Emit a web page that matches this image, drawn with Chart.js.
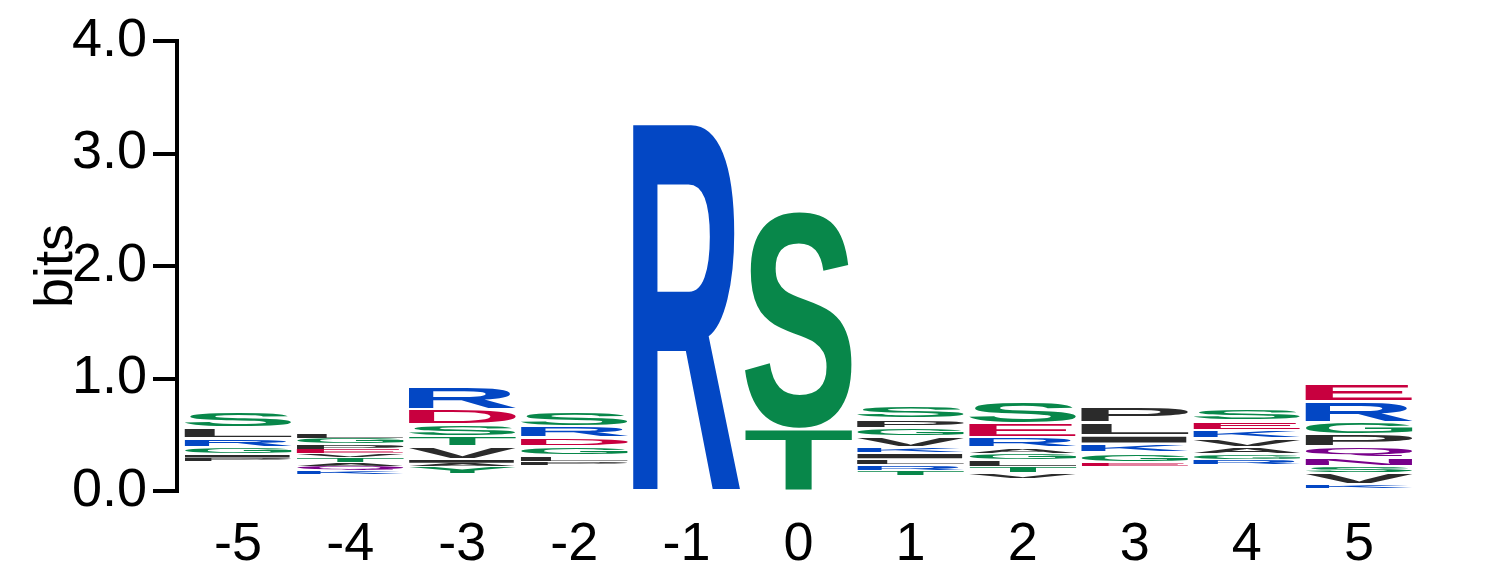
<!DOCTYPE html>
<html>
<head>
<meta charset="utf-8">
<title>Sequence logo</title>
<script src="https://cdn.jsdelivr.net/npm/chart.js@4.4.1/dist/chart.umd.min.js"></script>
<style>
  html, body { margin: 0; padding: 0; background: #fff; }
  canvas { display: block; }
</style>
</head>
<body>
<canvas id="logoChart" width="1486" height="583"></canvas>
<script>
// Positions along the motif (x axis)
const positions = [-5, -4, -3, -2, -1, 0, 1, 2, 3, 4, 5];
const yTickLabels = ['0.0', '1.0', '2.0', '3.0', '4.0'];

// Where each stack starts (bits)
const stackBase = [0.267, 0.155, 0.16, 0.23, 0, 0, 0.145, 0.118, 0.22, 0.24, 0.03];

// Residues of every column, bottom to top
const letters = [
  'PIGRLS',
  'KQATVEPGL',
  'YAIVTSDR',
  'PLGDRS',
  'R',
  'TS',
  'TRLIKVGPS',
  'VTLGARES',
  'EGKILP',
  'RGAVKES',
  'KVSNQPGRE'
];

// Height of each residue in bits, same order as above
const heights = [
  [0.020, 0.033, 0.060, 0.082, 0.089, 0.142],
  [0.025, 0.035, 0.035, 0.040, 0.035, 0.040, 0.040, 0.057, 0.045],
  [0.055, 0.025, 0.035, 0.110, 0.093, 0.104, 0.136, 0.200],
  [0.022, 0.053, 0.080, 0.079, 0.102, 0.124],
  [3.26],
  [0.54, 1.94],
  [0.030, 0.047, 0.053, 0.054, 0.051, 0.094, 0.077, 0.080, 0.118],
  [0.030, 0.059, 0.060, 0.059, 0.054, 0.088, 0.119, 0.201],
  [0.026, 0.083, 0.080, 0.074, 0.113, 0.139],
  [0.030, 0.050, 0.060, 0.079, 0.074, 0.083, 0.104],
  [0.020, 0.101, 0.059, 0.080, 0.095, 0.107, 0.110, 0.186, 0.163]
];

// chemistry colour scheme
const BLUE = '#0347c4', GREEN = '#08874a', RED = '#c8003f', BLACK = '#2b2b2b', PURPLE = '#78008a';
const residueColors = {
  R: BLUE, K: BLUE, H: BLUE,
  D: RED, E: RED,
  S: GREEN, T: GREEN, G: GREEN, Y: GREEN, C: GREEN,
  N: PURPLE, Q: PURPLE,
  A: BLACK, V: BLACK, L: BLACK, I: BLACK, P: BLACK, F: BLACK, M: BLACK, W: BLACK
};

// one dataset per layer of the stacks, each bar floating from its bottom to its top
const maxLayers = Math.max(...letters.map(s => s.length));
const datasets = [];
for (let layer = 0; layer < maxLayers; layer++) {
  const data = [];
  const residues = [];
  positions.forEach((pos, col) => {
    if (layer >= letters[col].length) return;
    let lo = stackBase[col];
    for (let k = 0; k < layer; k++) lo += heights[col][k];
    data.push({ x: pos, y: [lo, lo + heights[col][layer]] });
    residues.push(letters[col][layer]);
  });
  datasets.push({
    data: data,
    residues: residues,
    layer: layer,
    grouped: false,
    backgroundColor: 'rgba(0,0,0,0)',
    borderWidth: 0,
    categoryPercentage: 1,
    barPercentage: 0.95
  });
}

// exact ink box of a glyph, found by scanning an offscreen canvas
const glyphFont = 'bold 300px "Liberation Sans", Arial, sans-serif';
const glyphBoxes = {};
function glyphBox(ch) {
  if (glyphBoxes[ch]) return glyphBoxes[ch];
  const size = 500, ox = 100, oy = 400;
  const c = document.createElement('canvas');
  c.width = size; c.height = size;
  const g = c.getContext('2d');
  g.font = glyphFont;
  g.textBaseline = 'alphabetic';
  g.fillStyle = '#000';
  g.fillText(ch, ox, oy);
  const px = g.getImageData(0, 0, size, size).data;
  let x0 = size, x1 = -1, y0 = size, y1 = -1;
  for (let y = 0; y < size; y++) {
    for (let x = 0; x < size; x++) {
      if (px[(y * size + x) * 4 + 3] > 60) {
        if (x < x0) x0 = x;
        if (x > x1) x1 = x;
        if (y < y0) y0 = y;
        if (y > y1) y1 = y;
      }
    }
  }
  glyphBoxes[ch] = { left: x0 - ox, top: y0 - oy, w: x1 - x0 + 1, h: y1 - y0 + 1 };
  return glyphBoxes[ch];
}

// draws each residue stretched to fill its bar
const logoLetters = {
  id: 'logoLetters',
  afterDatasetsDraw(chart) {
    const ctx = chart.ctx;
    ctx.save();
    ctx.font = glyphFont;
    ctx.textAlign = 'left';
    ctx.textBaseline = 'alphabetic';
    chart.data.datasets.forEach((ds, d) => {
      const meta = chart.getDatasetMeta(d);
      meta.data.forEach((el, i) => {
        const p = el.getProps(['x', 'y', 'base', 'width'], true);
        const top = Math.min(p.y, p.base);
        let bottom = Math.max(p.y, p.base);
        if (ds.layer > 0) bottom -= Math.min(2.5, (bottom - top) * 0.3);
        const h = bottom - top;
        if (h <= 0.2) return;
        const ch = ds.residues[i];
        const b = glyphBox(ch);
        ctx.save();
        ctx.translate(p.x - p.width / 2, top);
        ctx.scale(p.width / b.w, h / b.h);
        ctx.fillStyle = residueColors[ch] || BLACK;
        ctx.fillText(ch, -b.left, -b.top);
        ctx.restore();
      });
    });
    ctx.restore();
  }
};

const axisFont = { family: '"Liberation Sans", Arial, sans-serif', size: 54 };

new Chart(document.getElementById('logoChart').getContext('2d'), {
  type: 'bar',
  data: { datasets: datasets },
  options: {
    responsive: false,
    animation: false,
    devicePixelRatio: 1,
    layout: { padding: { top: 41, right: 71, left: 0, bottom: 0 } },
    plugins: {
      legend: { display: false },
      tooltip: { enabled: false }
    },
    scales: {
      x: {
        type: 'linear',
        min: -5.545,
        max: 5.5,
        offset: false,
        grid: { display: false, drawTicks: false },
        border: { display: false },
        ticks: {
          stepSize: 1,
          includeBounds: false,
          autoSkip: false,
          maxRotation: 0,
          color: '#000',
          font: axisFont,
          padding: 22,
          callback: v => positions.includes(v) ? String(v) : ''
        },
        afterFit: s => { s.height = 92; }
      },
      y: {
        min: 0,
        max: 4,
        grid: { drawOnChartArea: false, tickLength: 24, lineWidth: 4, color: '#000' },
        border: { color: '#000', width: 4 },
        ticks: {
          stepSize: 1,
          color: '#000',
          font: axisFont,
          padding: 6,
          callback: v => yTickLabels[Math.round(v)]
        },
        title: {
          display: true,
          text: 'bits',
          color: '#000',
          font: axisFont,
          padding: { top: 25, bottom: 0 }
        },
        afterFit: s => { s.width = 177; }
      }
    }
  },
  plugins: [logoLetters]
});
</script>
</body>
</html>
